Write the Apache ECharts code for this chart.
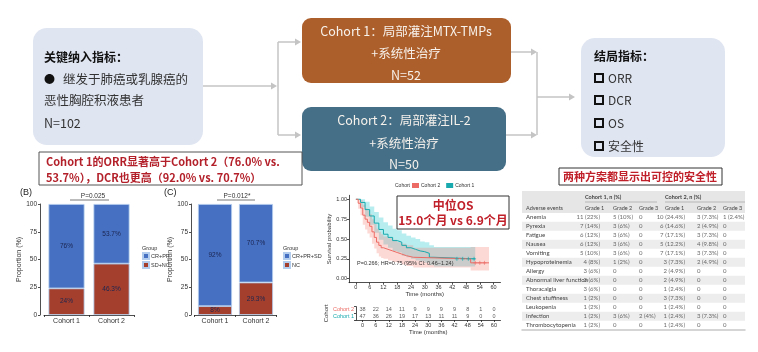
<!DOCTYPE html>
<html>
<head>
<meta charset="utf-8">
<script src="https://cdn.jsdelivr.net/npm/echarts@6/dist/echarts.min.js"></script>
<style>
  html, body { margin: 0; padding: 0; background: #fff; }
  #main { width: 758px; height: 352px; }
</style>
</head>
<body>
<div id="main"></div>
<script>
// ---- data ----
const barCategories = ["Cohort 1", "Cohort 2"];
const orrResponse = [76, 53.7];     // CR+PR
const orrNoResponse = [24, 46.3];   // SD+NC
const dcrControl = [92, 70.7];      // CR+PR+SD
const dcrNoControl = [8, 29.3];     // NC

const monthTicks = [0, 6, 12, 18, 24, 30, 36, 42, 48, 54, 60];
const survTicks = [0, 0.25, 0.5, 0.75, 1];

// Cohort 1 (teal) KM curve + 95% CI
const c1Time = [0, 2, 4, 6, 8, 10, 12, 14, 16, 18, 20, 22, 24, 26, 28, 30, 32, 34, 52];
const c1Surv = [1.00, 0.96, 0.87, 0.79, 0.70, 0.62, 0.56, 0.52, 0.48, 0.46, 0.42, 0.39, 0.37, 0.35, 0.34, 0.32, 0.27, 0.25, 0.25];
const c1Lower = [1.00, 0.90, 0.78, 0.68, 0.58, 0.49, 0.43, 0.39, 0.35, 0.33, 0.29, 0.27, 0.25, 0.23, 0.22, 0.20, 0.17, 0.155, 0.155];
const c1Upper = [1.00, 1.00, 0.97, 0.91, 0.84, 0.77, 0.71, 0.67, 0.63, 0.61, 0.57, 0.54, 0.52, 0.50, 0.47, 0.46, 0.42, 0.40, 0.40];
const c1Censor = [44, 46.5, 49, 51.5];

// Cohort 2 (red) KM curve + 95% CI
const c2Time = [0, 1, 2, 3, 4, 5, 6, 7, 8, 9, 10, 11, 12, 14, 16, 18, 20, 22, 25, 50, 58];
const c2Surv = [1.00, 0.95, 0.89, 0.80, 0.75, 0.71, 0.66, 0.59, 0.52, 0.46, 0.42, 0.39, 0.37, 0.35, 0.33, 0.31, 0.29, 0.27, 0.25, 0.20, 0.20];
const c2Lower = [1.00, 0.88, 0.80, 0.68, 0.62, 0.57, 0.52, 0.44, 0.38, 0.32, 0.28, 0.26, 0.25, 0.23, 0.21, 0.20, 0.18, 0.16, 0.14, 0.105, 0.105];
const c2Upper = [1.00, 1.00, 0.99, 0.93, 0.89, 0.86, 0.81, 0.75, 0.69, 0.63, 0.59, 0.56, 0.53, 0.51, 0.49, 0.46, 0.44, 0.42, 0.39, 0.40, 0.40];
const c2Censor = [52, 54, 56];

// number at risk
const riskCohort1 = [47, 36, 26, 19, 17, 13, 11, 11, 9, 0, 0];
const riskCohort2 = [38, 22, 14, 11, 9, 9, 9, 9, 8, 1, 0];

// adverse events table
const aeNames = ["Anemia", "Pyrexia", "Fatigue", "Nausea", "Vomiting", "Hypoproteinemia", "Allergy",
  "Abnormal liver function", "Thoracalgia", "Chest stuffiness", "Leukopenia", "Infection", "Thrombocytopenia"];
const c1Grade1 = ["11 (22%)", "7 (14%)", "6 (12%)", "6 (12%)", "5 (10%)", "4 (8%)", "3 (6%)", "3 (6%)", "3 (6%)", "1 (2%)", "1 (2%)", "1 (2%)", "1 (2%)"];
const c1Grade2 = ["5 (10%)", "3 (6%)", "3 (6%)", "3 (6%)", "3 (6%)", "1 (2%)", "0", "0", "0", "0", "0", "3 (6%)", "0"];
const c1Grade3 = ["0", "0", "0", "0", "0", "0", "0", "0", "0", "0", "0", "2 (4%)", "0"];
const c2Grade1 = ["10 (24.4%)", "6 (14.6%)", "7 (17.1%)", "5 (12.2%)", "7 (17.1%)", "3 (7.3%)", "2 (4.9%)", "2 (4.9%)", "1 (2.4%)", "3 (7.3%)", "1 (2.4%)", "1 (2.4%)", "1 (2.4%)"];
const c2Grade2 = ["3 (7.3%)", "2 (4.9%)", "3 (7.3%)", "4 (9.8%)", "3 (7.3%)", "2 (4.9%)", "0", "0", "0", "0", "0", "3 (7.3%)", "0"];
const c2Grade3 = ["1 (2.4%)", "0", "0", "0", "0", "0", "0", "0", "0", "0", "0", "0", "0"];

// ---- styles ----
const CJK = '"Noto Sans CJK SC", "Noto Sans", sans-serif';
const SANS = '"Liberation Sans", Arial, sans-serif';
const TEAL = "#17a9ad";
const RED = "#ec6b64";
const BLUE = "#4670c2";
const BRICK = "#a43f2d";
const GREY = "#c4c4c4";

const chart = echarts.init(document.getElementById("main"));

function txt(x, y, text, opt) {
  const style = Object.assign({ text: text, fill: "#222", font: "12px " + CJK, align: "left", verticalAlign: "middle" }, opt || {});
  style.textAlign = style.align;
  style.textVerticalAlign = style.verticalAlign;
  return { type: "text", x: x, y: y, z: 100, silent: true, style: style };
}
function box(x, y, w, h, r, fill, stroke) {
  return { type: "rect", z: 90, silent: true, shape: { x: x, y: y, width: w, height: h, r: r },
    style: { fill: fill, stroke: stroke || null, lineWidth: 1 } };
}
function line(points, color, width) {
  return { type: "polyline", z: 95, silent: true, shape: { points: points },
    style: { stroke: color || GREY, lineWidth: width || 1.5, fill: null } };
}
function head(x, y) {
  return { type: "polygon", z: 95, silent: true, shape: { points: [[x, y], [x - 6, y - 3.5], [x - 6, y + 3.5]] },
    style: { fill: GREY } };
}
function square(x, y) {
  return { type: "rect", z: 100, silent: true, shape: { x: x, y: y - 4, width: 8, height: 8 },
    style: { fill: null, stroke: "#111", lineWidth: 2 } };
}

const pairs = (t, v) => t.map((x, i) => [x, v[i]]);

const white = "#f7f2ec";
const graphics = [
  // inclusion box
  box(33, 28, 170, 117, 14, "#dfe5f1"),
  txt(44, 57, "关键纳入指标：", { font: "bold 12px " + CJK, fill: "#111" }),
  txt(44, 79, "●", { font: "11px " + CJK, fill: "#111" }),
  txt(63, 79, "继发于肺癌或乳腺癌的", { font: "12.5px " + CJK, fill: "#333" }),
  txt(44, 100, "恶性胸腔积液患者", { font: "12.5px " + CJK, fill: "#333" }),
  txt(44, 123, "N=102", { font: "12.5px " + CJK, fill: "#333" }),
  // connectors left
  line([[203, 86], [272, 86]]), head(277, 86),
  line([[278, 42], [278, 135]]),
  line([[278, 42], [296, 42]]), head(301, 42),
  line([[278, 135], [296, 135]]), head(301, 135),
  // cohort boxes
  box(302, 18, 209, 65, 9, "#ad5f2b"),
  txt(406, 31, "Cohort 1：局部灌注MTX-TMPs", { font: "12.5px " + CJK, fill: white, align: "center" }),
  txt(406, 53, "+系统性治疗", { font: "12.5px " + CJK, fill: white, align: "center" }),
  txt(406, 75, "N=52", { font: "12.5px " + CJK, fill: white, align: "center" }),
  box(302, 107, 204, 64, 9, "#456f87"),
  txt(404, 120, "Cohort 2：局部灌注IL-2", { font: "12.5px " + CJK, fill: white, align: "center" }),
  txt(404, 143, "+系统性治疗", { font: "12.5px " + CJK, fill: white, align: "center" }),
  txt(404, 164, "N=50", { font: "12.5px " + CJK, fill: white, align: "center" }),
  // connectors right
  line([[511, 52], [532, 52]]), head(537, 52),
  line([[506, 135], [532, 135]]), head(537, 135),
  line([[537, 52], [537, 135]]),
  line([[537, 97], [570, 97]]), head(575, 97),
  // outcomes box
  box(581, 38, 144, 119, 14, "#dfe5f1"),
  txt(594, 56, "结局指标：", { font: "bold 12px " + CJK, fill: "#111" }),
  square(595, 78), txt(608, 78, "ORR", { font: "12px " + CJK, fill: "#333" }),
  square(595, 100), txt(608, 100, "DCR", { font: "12px " + CJK, fill: "#333" }),
  square(595, 123), txt(608, 123, "OS", { font: "12px " + CJK, fill: "#333" }),
  square(595, 146), txt(608, 146, "安全性", { font: "12px " + CJK, fill: "#333" }),
  // ORR/DCR note
  box(39, 152, 263, 33, 0, "#fff", "#555"),
  txt(46, 162, "Cohort 1的ORR显著高于Cohort 2（76.0% vs.", { font: "bold 11px " + CJK, fill: "#b3202a" }),
  txt(46, 178, "53.7%），DCR也更高（92.0% vs. 70.7%）", { font: "bold 11px " + CJK, fill: "#b3202a" }),
  // bar chart annotations
  txt(20, 193, "(B)", { font: "9px " + SANS, fill: "#222" }),
  txt(93, 196, "P=0.025", { font: "6.5px " + SANS, fill: "#333", align: "center" }),
  line([[70, 200], [109, 200]], "#555", 0.8),
  txt(142, 248, "Group", { font: "5.5px " + SANS, fill: "#333" }),
  txt(164, 193, "(C)", { font: "9px " + SANS, fill: "#222" }),
  txt(237, 196, "P=0.012*", { font: "6.5px " + SANS, fill: "#333", align: "center" }),
  line([[217, 200], [255, 200]], "#555", 0.8),
  txt(283, 248, "Group", { font: "5.5px " + SANS, fill: "#333" }),
  // survival annotations
  txt(395, 186, "Cohort", { font: "5px " + SANS, fill: "#333" }),
  txt(357, 263, "P=0.266; HR=0.75 (95% CI: 0.46−1.24)", { font: "5.5px " + SANS, fill: "#333" }),
  box(397, 196, 112, 33, 0, "#fff", "#333"),
  txt(453, 205, "中位OS", { font: "bold 12px " + CJK, fill: "#c0202a", align: "center" }),
  txt(453, 220, "15.0个月 vs 6.9个月", { font: "bold 12px " + CJK, fill: "#c0202a", align: "center" }),
  // safety table
  box(559, 168, 163, 17, 0, "#fff", "#333"),
  txt(640, 177, "两种方案都显示出可控的安全性", { font: "bold 11px " + CJK, fill: "#c0202a", align: "center" }),
  box(522, 191, 223, 22, 0, "#e6e6e6"),
  txt(585, 197, "Cohort 1, n (%)", { font: "bold 5.5px Lato, sans-serif", fill: "#444" }),
  txt(665, 197, "Cohort 2, n (%)", { font: "bold 5.5px Lato, sans-serif", fill: "#444" }),
  line([[585, 202], [657, 202]], "#999", 0.6),
  line([[665, 202], [745, 202]], "#999", 0.6),
  txt(526, 208, "Adverse events", { font: "5.5px Lato, sans-serif", fill: "#444" }),
  txt(585, 208, "Grade 1", { font: "5.5px Lato, sans-serif", fill: "#444" }),
  txt(613, 208, "Grade 2", { font: "5.5px Lato, sans-serif", fill: "#444" }),
  txt(639, 208, "Grade 3", { font: "5.5px Lato, sans-serif", fill: "#444" }),
  txt(665, 208, "Grade 1", { font: "5.5px Lato, sans-serif", fill: "#444" }),
  txt(697, 208, "Grade 2", { font: "5.5px Lato, sans-serif", fill: "#444" }),
  txt(723, 208, "Grade 3", { font: "5.5px Lato, sans-serif", fill: "#444" })
];

const smallAxis = {
  axisLine: { show: true, onZero: false, lineStyle: { color: "#222", width: 0.8 } },
  axisTick: { show: true, length: 2, lineStyle: { color: "#222", width: 0.8 } },
  splitLine: { show: false }
};
function pctAxis(grid, offset) {
  return Object.assign({}, smallAxis, {
    type: "value", gridIndex: grid, min: 0, max: 100, interval: 25, offset: offset,
    name: "Proportion (%)", nameLocation: "middle", nameGap: 16, nameRotate: 90,
    nameTextStyle: { fontSize: 7, color: "#333", fontFamily: SANS },
    axisLabel: { fontSize: 6.5, color: "#333", margin: 3, fontFamily: SANS }
  });
}
function catAxis(grid) {
  return Object.assign({}, smallAxis, {
    type: "category", gridIndex: grid, data: barCategories,
    axisLabel: { fontSize: 7, color: "#333", margin: 3, fontFamily: SANS }
  });
}
function stackBar(name, data, grid, color, width) {
  return {
    type: "bar", name: name, xAxisIndex: grid, yAxisIndex: grid, stack: "s" + grid, data: data,
    barWidth: width, itemStyle: { color: color, borderColor: "#b3cdee", borderWidth: 0.8 },
    label: { show: true, position: "inside", formatter: p => p.value + "%", fontSize: 6.5, color: "#1b2550", fontFamily: SANS }
  };
}
function kmLine(name, t, s, color) {
  return { type: "line", name: name, xAxisIndex: 2, yAxisIndex: 2, step: "end", data: pairs(t, s),
    symbol: "none", lineStyle: { color: color, width: 1 }, itemStyle: { color: color }, z: 5 };
}
// confidence band drawn as one step-shaped polygon through the axis scales
function kmBand(t, lo, hi, fill) {
  return {
    type: "custom", xAxisIndex: 2, yAxisIndex: 2, silent: true, z: 2, clip: true,
    data: pairs(t, lo),
    renderItem: function (params, api) {
      if (params.dataIndex !== 0) return null;
      const up = [], dn = [];
      for (let i = 0; i < t.length; i++) {
        up.push(api.coord([t[i], hi[i]]));
        dn.push(api.coord([t[i], lo[i]]));
        if (i < t.length - 1) {
          up.push(api.coord([t[i + 1], hi[i]]));
          dn.push(api.coord([t[i + 1], lo[i]]));
        }
      }
      return { type: "polygon", shape: { points: up.concat(dn.reverse()) }, style: { fill: fill } };
    }
  };
}
function censor(times, s, color) {
  return { type: "scatter", xAxisIndex: 2, yAxisIndex: 2, data: times.map(t => [t, s]), silent: true,
    symbol: "path://M0,5L10,5M5,0L5,10", symbolSize: 4, itemStyle: { color: "none", borderColor: color, borderWidth: 0.8 }, z: 6 };
}

const tableCols = [c1Grade1, c1Grade2, c1Grade3, c2Grade1, c2Grade2, c2Grade3];
const colX = [78, 91, 117, 163, 175, 201];
const colRight = [true, false, false, true, false, false];

const option = {
  animation: false,
  backgroundColor: "#fff",
  graphic: { elements: graphics },
  legend: [
    { left: 142, top: 252, orient: "vertical", padding: 0, itemGap: 1, itemWidth: 6, itemHeight: 6, icon: "rect",
      data: ["CR+PR", "SD+NC"], textStyle: { fontSize: 5.5, color: "#333", fontFamily: SANS, padding: [0, 0, 0, -3] } },
    { left: 283, top: 252, orient: "vertical", padding: 0, itemGap: 1, itemWidth: 6, itemHeight: 6, icon: "rect",
      data: ["CR+PR+SD", "NC"], textStyle: { fontSize: 5.5, color: "#333", fontFamily: SANS, padding: [0, 0, 0, -3] } },
    { left: 412, top: 183, padding: 0, itemGap: 6, itemWidth: 7, itemHeight: 5, icon: "rect",
      data: ["Cohort 2", "Cohort 1"], textStyle: { fontSize: 5, color: "#333", fontFamily: SANS, padding: [0, 0, 0, -3] } }
  ],
  grid: [
    { left: 44, top: 204, width: 90, height: 111 },
    { left: 194.5, top: 204, width: 82, height: 111 },
    { left: 349, top: 195.3, width: 151.5, height: 87.4 },
    { left: 356, top: 306.6, width: 144.5, height: 13.4 },
    { left: 522, top: 212.8, width: 223, height: 117 }
  ],
  xAxis: [
    catAxis(0),
    catAxis(1),
    Object.assign({}, smallAxis, {
      type: "value", gridIndex: 2, min: -3, max: 63,
      axisTick: { show: true, length: 2, customValues: monthTicks, lineStyle: { color: "#222", width: 0.8 } },
      axisLabel: { customValues: monthTicks, fontSize: 5.5, color: "#333", margin: 2, fontFamily: SANS },
      name: "Time (months)", nameLocation: "middle", nameGap: 9,
      nameTextStyle: { fontSize: 6, color: "#333", fontFamily: SANS }
    }),
    Object.assign({}, smallAxis, {
      type: "value", gridIndex: 3, min: -3, max: 63,
      axisTick: { show: true, length: 2, customValues: monthTicks, lineStyle: { color: "#222", width: 0.8 } },
      axisLabel: { customValues: monthTicks, fontSize: 5.5, color: "#333", margin: 2, fontFamily: SANS },
      name: "Time (months)", nameLocation: "middle", nameGap: 9,
      nameTextStyle: { fontSize: 6, color: "#333", fontFamily: SANS }
    }),
    { type: "value", gridIndex: 4, min: 0, max: 223, axisLine: { show: true, onZero: false, lineStyle: { color: "#c8c8c8", width: 1.5 } },
      axisTick: { show: false }, axisLabel: { show: false }, splitLine: { show: false } }
  ],
  yAxis: [
    pctAxis(0, 4),
    pctAxis(1, 3.5),
    Object.assign({}, smallAxis, {
      type: "value", gridIndex: 2, min: -0.05, max: 1.05,
      axisTick: { show: true, length: 2, customValues: survTicks, lineStyle: { color: "#222", width: 0.8 } },
      axisLabel: { customValues: survTicks, formatter: v => v.toFixed(2), fontSize: 5.5, color: "#333", margin: 2, fontFamily: SANS },
      name: "Survival probability", nameLocation: "middle", nameGap: 15, nameRotate: 90,
      nameTextStyle: { fontSize: 6, color: "#333", fontFamily: SANS }
    }),
    Object.assign({}, smallAxis, {
      type: "category", gridIndex: 3, data: ["Cohort 1", "Cohort 2"],
      axisLabel: { interval: 0, fontSize: 5.5, margin: 2, fontFamily: SANS, color: v => (v === "Cohort 2" ? RED : TEAL) },
      name: "Cohort", nameLocation: "middle", nameGap: 20, nameRotate: 90,
      nameTextStyle: { fontSize: 6, color: "#333", fontFamily: SANS }
    }),
    { type: "category", gridIndex: 4, data: aeNames, inverse: true,
      axisLine: { show: false }, axisTick: { show: false },
      axisLabel: { interval: 0, inside: true, margin: 4, fontSize: 6, color: "#444", fontFamily: "Lato, sans-serif" },
      splitLine: { show: false },
      splitArea: { show: true, interval: 0, areaStyle: { color: ["rgba(255,255,255,0)", "#ededed"] } } }
  ],
  series: [
    stackBar("SD+NC", orrNoResponse, 0, BRICK, 36),
    stackBar("CR+PR", orrResponse, 0, BLUE, 36),
    stackBar("NC", dcrNoControl, 1, BRICK, 34),
    stackBar("CR+PR+SD", dcrControl, 1, BLUE, 34),
    kmBand(c1Time, c1Lower, c1Upper, "rgba(0,191,196,0.28)"),
    kmBand(c2Time, c2Lower, c2Upper, "rgba(248,118,109,0.28)"),
    kmLine("Cohort 1", c1Time, c1Surv, TEAL),
    kmLine("Cohort 2", c2Time, c2Surv, RED),
    censor(c1Censor, 0.25, TEAL),
    censor(c2Censor, 0.2, RED),
    { type: "scatter", xAxisIndex: 3, yAxisIndex: 3, symbolSize: 0, silent: true,
      data: monthTicks.map((t, i) => ({ name: String(riskCohort2[i]), value: [t, "Cohort 2"] }))
        .concat(monthTicks.map((t, i) => ({ name: String(riskCohort1[i]), value: [t, "Cohort 1"] }))),
      itemStyle: { color: "rgba(0,0,0,0)" },
      label: { show: true, position: "inside", formatter: "{b}", fontSize: 5.5, color: "#333", fontFamily: SANS } },
    ...tableCols.map((col, c) => ({
      type: "scatter", xAxisIndex: 4, yAxisIndex: 4, symbolSize: 0, silent: true,
      data: col.map((v, i) => ({ name: v, value: [colX[c], i] })),
      itemStyle: { color: "rgba(0,0,0,0)" },
      label: { show: true, position: colRight[c] ? "left" : "right", distance: 0, formatter: "{b}",
        fontSize: 6, color: "#444", fontFamily: "Lato, sans-serif" }
    }))
  ]
};

chart.setOption(option);
</script>
</body>
</html>
